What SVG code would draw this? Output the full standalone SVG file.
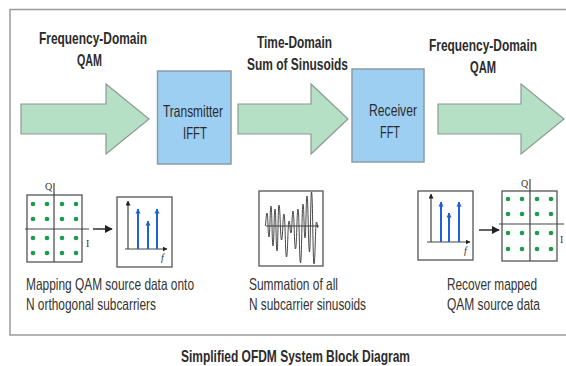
<svg xmlns="http://www.w3.org/2000/svg" width="566" height="366" viewBox="0 0 566 366">
<style>
.lbl{font-family:"Liberation Sans",Arial,sans-serif;font-weight:bold;font-size:16.5px;fill:#2b2b2b}
.box{fill:#9dcff2;stroke:#8d9aa6;stroke-width:1.5}
.btxt{font-family:"Liberation Sans",Arial,sans-serif;font-size:16.5px;fill:#2b2b2b}
.cap{font-family:"Liberation Sans",Arial,sans-serif;font-size:16.5px;fill:#333}
.flow{fill:#b5e0c6;stroke:#8c9a92;stroke-width:1.2}
.frame{fill:#fff;stroke:#555;stroke-width:1.3}
.ax{stroke:#444;stroke-width:1.2;fill:none}
.dot{fill:#1a9c4a}
.blue{stroke:#1f5fd8;stroke-width:2;fill:none}
.ser{font-family:"Liberation Serif","Times New Roman",serif;font-size:10px;fill:#333}
</style>
<defs>
<marker id="ah" viewBox="0 0 10 10" refX="9" refY="5" markerWidth="5" markerHeight="5" orient="auto" markerUnits="userSpaceOnUse"><path d="M0,0 L10,5 L0,10 Z" fill="#222"/></marker>
<marker id="ahb" viewBox="0 0 10 10" refX="9" refY="5" markerWidth="5" markerHeight="6" orient="auto" markerUnits="userSpaceOnUse"><path d="M0,0 L10,5 L0,10 Z" fill="#1f5fd8"/></marker>
<marker id="ahs" viewBox="0 0 10 10" refX="9" refY="5" markerWidth="8" markerHeight="8" orient="auto" markerUnits="userSpaceOnUse"><path d="M0,0 L10,5 L0,10 Z" fill="#222"/></marker>
</defs>
<rect x="0" y="0" width="566" height="366" fill="#fff"/>
<path id="frame" d="M566,9.5 H10 V335 H566" fill="none" stroke="#9a9a9a" stroke-width="1.5"/>

<g id="labels">
<text class="lbl" x="39" y="44" textLength="108" lengthAdjust="spacingAndGlyphs">Frequency-Domain</text>
<text class="lbl" x="77" y="66" textLength="25" lengthAdjust="spacingAndGlyphs">QAM</text>
<text class="lbl" x="257" y="47.5" textLength="75" lengthAdjust="spacingAndGlyphs">Time-Domain</text>
<text class="lbl" x="247" y="69.5" textLength="101" lengthAdjust="spacingAndGlyphs">Sum of Sinusoids</text>
<text class="lbl" transform="translate(429,50.5) scale(0.72,1)" x="0" y="0" textLength="150" lengthAdjust="spacingAndGlyphs">Frequency-Domain</text>
<text class="lbl" x="470" y="72.5" textLength="26" lengthAdjust="spacingAndGlyphs">QAM</text>
</g>

<g id="connectors">
<polygon class="flow" points="21,104 106,104 106,84 149,119 106,154 106,134 21,134"/>
<polygon class="flow" points="238,104 311,104 311,84 348,119 311,154 311,134 238,134"/>
<polygon class="flow" points="438,104 521,104 521,84 564,119 521,154 521,134 438,134"/>
<line x1="93" y1="229" x2="112" y2="229" stroke="#222" stroke-width="1.4" marker-end="url(#ahs)"/>
<line x1="479" y1="230" x2="499" y2="230" stroke="#222" stroke-width="1.4" marker-end="url(#ahs)"/>
</g>

<g id="transmitter">
<rect class="box" x="157.5" y="71" width="73.5" height="93"/>
<text class="btxt" x="163" y="117" textLength="60" lengthAdjust="spacingAndGlyphs">Transmitter</text>
<text class="btxt" x="183" y="138.5" textLength="24" lengthAdjust="spacingAndGlyphs">IFFT</text>
</g>

<g id="receiver">
<rect class="box" x="352" y="69" width="72" height="93"/>
<text class="btxt" x="369" y="116" textLength="48" lengthAdjust="spacingAndGlyphs">Receiver</text>
<text class="btxt" x="380" y="137.5" textLength="20" lengthAdjust="spacingAndGlyphs">FFT</text>
</g>

<g id="tx-constellation">
<rect class="frame" x="27" y="195" width="55" height="67"/>
<line class="ax" x1="54" y1="183" x2="54" y2="262"/>
<line class="ax" x1="25" y1="229" x2="89" y2="229"/>
<text class="ser" x="45" y="190">Q</text>
<text class="ser" x="86" y="247">I</text>
<g class="dot">
<circle cx="33" cy="204" r="2.3"/><circle cx="47" cy="204" r="2.3"/><circle cx="62" cy="204" r="2.3"/><circle cx="76" cy="204" r="2.3"/>
<circle cx="33" cy="219" r="2.3"/><circle cx="47" cy="219" r="2.3"/><circle cx="62" cy="219" r="2.3"/><circle cx="76" cy="219" r="2.3"/>
<circle cx="33" cy="238" r="2.3"/><circle cx="47" cy="238" r="2.3"/><circle cx="62" cy="238" r="2.3"/><circle cx="76" cy="238" r="2.3"/>
<circle cx="33" cy="253" r="2.3"/><circle cx="47" cy="253" r="2.3"/><circle cx="62" cy="253" r="2.3"/><circle cx="76" cy="253" r="2.3"/>
</g>
</g>

<g id="tx-spectrum">
<rect class="frame" x="117" y="197" width="55" height="70"/>
<line class="ax" x1="128" y1="249" x2="128" y2="201" marker-end="url(#ah)"/>
<line class="ax" x1="125" y1="249" x2="167" y2="249" marker-end="url(#ah)"/>
<text class="ser" x="161" y="261" font-style="italic" font-size="9">f</text>
<line class="blue" x1="138" y1="249" x2="138" y2="209" marker-end="url(#ahb)"/>
<line class="blue" x1="148" y1="249" x2="148" y2="221" marker-end="url(#ahb)"/>
<line class="blue" x1="157" y1="249" x2="157" y2="209" marker-end="url(#ahb)"/>
</g>

<g id="sum-waveform">
<rect class="frame" x="259" y="191" width="64" height="75"/>
<line class="ax" x1="266" y1="226" x2="319" y2="226"/>
<path fill="none" stroke="#333" stroke-width="0.9" d="M265,226 C266,226 266,213 267,213 C268,213 268,237 269,237 C270,237 270,206 271,206 C272,206 272,246 273,246 C274,246 274,209 275,209 C276,209 276,251 277,251 C278,251 278,205 279,205 C280.2,205 280.3,240 281.5,240 C282.8,240 282.8,214 284,214 C285.2,214 285.3,257 286.5,257 C287.8,257 287.8,221 289,221 C290,221 290,233 291,233 C292,233 292,211 293,211 C294.2,211 294.3,249 295.5,249 C296.8,249 296.8,209 298,209 C299.2,209 299.3,263 300.5,263 C301.8,263 301.8,204 303,204 C304,204 304,238 305,238 C306,238 306,196 307,196 C308.2,196 308.3,252 309.5,252 C310.5,252 310.5,192 311.5,192 C312.8,192 312.8,264 314,264 C315.2,264 315.3,222 316.5,222 C317.2,222 317.4,228 318,228"/>
</g>

<g id="rx-spectrum">
<rect class="frame" x="418" y="191" width="55" height="69"/>
<line class="ax" x1="431" y1="242" x2="431" y2="194" marker-end="url(#ah)"/>
<line class="ax" x1="427" y1="242" x2="470" y2="242" marker-end="url(#ah)"/>
<text class="ser" x="464" y="254" font-style="italic" font-size="9">f</text>
<line class="blue" x1="441" y1="242" x2="441" y2="202" marker-end="url(#ahb)"/>
<line class="blue" x1="449" y1="242" x2="449" y2="213" marker-end="url(#ahb)"/>
<line class="blue" x1="459" y1="242" x2="459" y2="202" marker-end="url(#ahb)"/>
</g>

<g id="rx-constellation">
<rect class="frame" x="502" y="191" width="55" height="70"/>
<line class="ax" x1="530" y1="179" x2="530" y2="261"/>
<line class="ax" x1="499" y1="224" x2="564" y2="224"/>
<text class="ser" x="521" y="187">Q</text>
<text class="ser" x="560" y="243">I</text>
<g class="dot">
<circle cx="508" cy="199" r="2.3"/><circle cx="522" cy="199" r="2.3"/><circle cx="537" cy="199" r="2.3"/><circle cx="551" cy="199" r="2.3"/>
<circle cx="508" cy="214" r="2.3"/><circle cx="522" cy="214" r="2.3"/><circle cx="537" cy="214" r="2.3"/><circle cx="551" cy="214" r="2.3"/>
<circle cx="508" cy="233" r="2.3"/><circle cx="522" cy="233" r="2.3"/><circle cx="537" cy="233" r="2.3"/><circle cx="551" cy="233" r="2.3"/>
<circle cx="508" cy="249" r="2.3"/><circle cx="522" cy="249" r="2.3"/><circle cx="537" cy="249" r="2.3"/><circle cx="551" cy="249" r="2.3"/>
</g>
</g>

<g id="captions">
<text class="cap" x="26" y="290" textLength="168" lengthAdjust="spacingAndGlyphs">Mapping QAM source data onto</text>
<text class="cap" x="26" y="310" textLength="130" lengthAdjust="spacingAndGlyphs">N orthogonal subcarriers</text>
<text class="cap" x="249" y="290" textLength="89" lengthAdjust="spacingAndGlyphs">Summation of all</text>
<text class="cap" x="249" y="310" textLength="117" lengthAdjust="spacingAndGlyphs">N subcarrier sinusoids</text>
<text class="cap" transform="translate(447,290) scale(0.72,1)" x="0" y="0" textLength="125" lengthAdjust="spacingAndGlyphs">Recover mapped</text>
<text class="cap" transform="translate(447,310) scale(0.72,1)" x="0" y="0" textLength="129.2" lengthAdjust="spacingAndGlyphs">QAM source data</text>
</g>

<g id="title">
<text class="lbl" x="181" y="362" textLength="229" lengthAdjust="spacingAndGlyphs">Simplified OFDM System Block Diagram</text>
</g>
</svg>
